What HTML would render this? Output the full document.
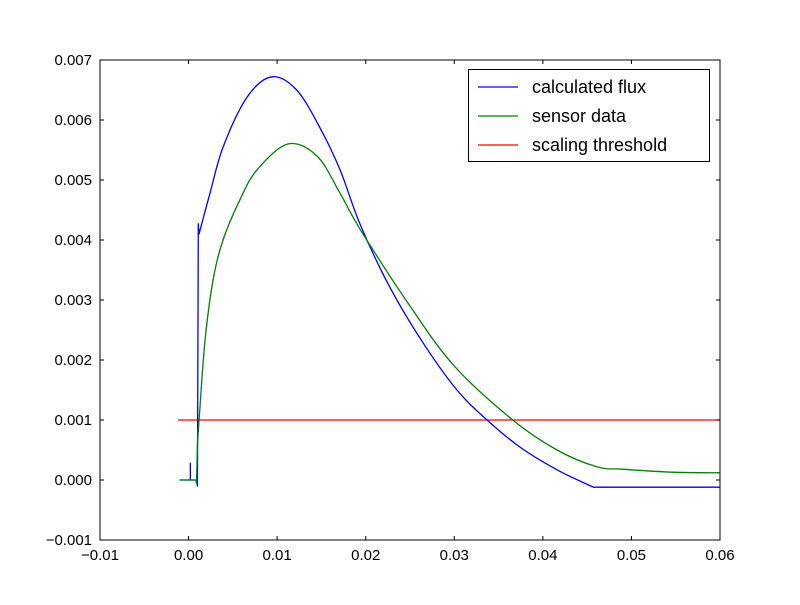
<!DOCTYPE html>
<html><head><meta charset="utf-8"><style>
body{margin:0;background:#fff}
svg{font-family:"Liberation Sans",sans-serif}
</style></head><body>
<svg id="c" width="800" height="600"></svg>
<script>
const xTicks=[-0.01,0,0.01,0.02,0.03,0.04,0.05,0.06];
const xTickLabels=["\u22120.01","0.00","0.01","0.02","0.03","0.04","0.05","0.06"];
const yTicks=[-0.001,0,0.001,0.002,0.003,0.004,0.005,0.006,0.007];
const yTickLabels=["\u22120.001","0.000","0.001","0.002","0.003","0.004","0.005","0.006","0.007"];
const fluxX=[-0.001,0,0.0002,0.0002,0.0002,0.0009,0.001,0.0011,0.00118,0.00242,0.0039,0.0066,0.0094,0.0122,0.0148,0.0171,0.0194,0.0227,0.0265,0.0303,0.0337,0.0374,0.0416,0.0457,0.06];
const fluxY=[0,0,0,0.00028,0,0,-0.0001,0.00427,0.0041,0.00478,0.00555,0.00638,0.00672,0.0065,0.00588,0.00517,0.00425,0.00322,0.00228,0.0015,0.001,0.00055,0.00017,-0.00012,-0.00012];
const sensorX=[-0.001,0.0008,0.0009,0.001,0.00129,0.00186,0.00276,0.00389,0.0058,0.00773,0.0112,0.0145,0.0171,0.0194,0.025,0.03,0.0366,0.0416,0.0461,0.049,0.0547,0.06];
const sensorY=[0,0,-0.00005,0.0006,0.00122,0.00233,0.00333,0.004,0.00467,0.00517,0.0056,0.0054,0.00478,0.00417,0.0029,0.0019,0.001,0.0005,0.00022,0.00018,0.00013,0.00012];
const threshX=[-0.0012,0.06];
const threshY=[0.001,0.001];
const L=100,R=720,T=60,B=540;
const sx=v=>L+(v+0.01)/0.07*(R-L);
const sy=v=>B-(v+0.001)/0.008*(B-T);
const svg=document.getElementById('c');const NS='http://www.w3.org/2000/svg';
function mk(t,a,p){const e=document.createElementNS(NS,t);for(const k in a)e.setAttribute(k,a[k]);(p||svg).appendChild(e);return e;}
function pathD(xs,ys,from,to){const P=xs.map((x,i)=>[sx(x),sy(ys[i])]);let d='M'+P[0][0]+','+P[0][1];
for(let i=1;i<P.length;i++){if(i<=from||i>=to){d+=' L'+P[i][0]+','+P[i][1];continue;}
const p0=P[Math.max(i-2,from)],p1=P[i-1],p2=P[i],p3=P[Math.min(i+1,to-1)];
const c1=[p1[0]+(p2[0]-p0[0])/6,p1[1]+(p2[1]-p0[1])/6],c2=[p2[0]-(p3[0]-p1[0])/6,p2[1]-(p3[1]-p1[1])/6];
d+=' C'+c1+' '+c2+' '+p2;}return d;}
function line(xs,ys,col,name,from,to){const e=mk('path',{d:pathD(xs,ys,from,to),fill:'none',stroke:col,'stroke-width':1.3,'stroke-linejoin':'round'});

}
line(threshX,threshY,'#ff0000','threshold-line',99,99);
line(fluxX,fluxY,'#0000ff','flux-line',8,fluxX.length-1);
line(sensorX,sensorY,'#008000','sensor-line',3,sensorX.length);
const fr=mk('rect',{x:L,y:T,width:R-L,height:B-T,fill:'none',stroke:'#000'});


xTicks.forEach((v,i)=>{const x=sx(v);mk('line',{x1:x,x2:x,y1:B,y2:B-4,stroke:'#000'});mk('line',{x1:x,x2:x,y1:T,y2:T+4,stroke:'#000'});
const t=mk('text',{x:x,y:B+20,'text-anchor':'middle','font-size':15});t.textContent=xTickLabels[i];

});
yTicks.forEach((v,i)=>{const y=sy(v);mk('line',{x1:L,x2:L+4,y1:y,y2:y,stroke:'#000'});mk('line',{x1:R,x2:R-4,y1:y,y2:y,stroke:'#000'});
const t=mk('text',{x:L-8,y:y+5,'text-anchor':'end','font-size':15});t.textContent=yTickLabels[i];

});
const lg=mk('g',{});


mk('rect',{x:468.5,y:69.5,width:241,height:92,fill:'#fff',stroke:'#000'},lg);
[['calculated flux','#0000ff'],['sensor data','#008000'],['scaling threshold','#ff0000']].forEach((d,i)=>{const y=87+i*29;
mk('line',{x1:478,x2:518,y1:y,y2:y,stroke:d[1],'stroke-width':1.3},lg);
const t=mk('text',{x:532,y:y+6,'font-size':18},lg);t.textContent=d[0];

});
</script>
</body></html>
